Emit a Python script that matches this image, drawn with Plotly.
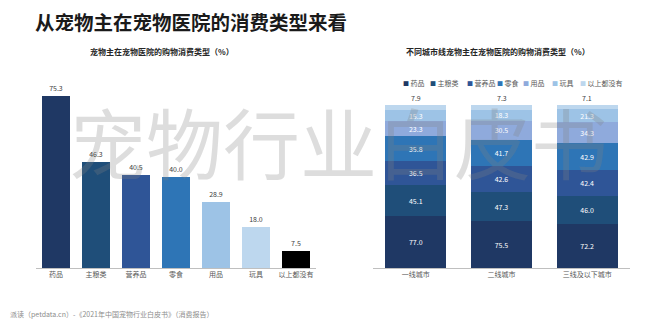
import plotly.graph_objects as go

# Consumption categories (shared by both panels)
categories = ["药品", "主粮类", "营养品", "零食", "用品", "玩具", "以上都没有"]

# Left panel: share of pet owners buying each category at vet hospitals (%)
overall_share = [75.3, 46.3, 40.5, 40.0, 28.9, 18.0, 7.5]

# Right panel: the same breakdown by city tier (%)
cities = ["一线城市", "二线城市", "三线及以下城市"]
tier1 = [77.0, 45.1, 36.5, 35.8, 23.3, 15.3, 7.9]
tier2 = [75.5, 47.3, 42.6, 41.7, 30.5, 18.3, 7.3]
tier3 = [72.2, 46.0, 42.4, 42.9, 34.3, 21.3, 7.1]

bar_colors = ["#1F3864", "#1F4E79", "#2F5597", "#2E75B6", "#9DC3E6", "#BDD7EE", "#000000"]
stack_colors = ["#1F3864", "#1F4E79", "#2F5597", "#2E75B6", "#8FAADC", "#9DC3E6", "#BDD7EE"]

W, H = 650, 333
FONT = "Noto Sans CJK SC"


def fx(px):
    return px / W


def fy(px):
    return 1 - px / H


fig = go.Figure()

# Left panel: simple bars with value labels on top
fig.add_trace(go.Bar(
    x=categories, y=overall_share,
    marker=dict(color=bar_colors, line=dict(width=0)),
    text=[f"{v:.1f}" for v in overall_share],
    textposition="outside",
    textfont=dict(size=7, color="#404040", family=FONT),
    cliponaxis=False,
    xaxis="x", yaxis="y", showlegend=False, hoverinfo="skip",
))

# Right panel: each city's column is stacked to 100% of the column height
tiers = [tier1, tier2, tier3]
totals = [sum(t) for t in tiers]
for i, cat in enumerate(categories):
    raw = [t[i] for t in tiers]
    heights = [v / tot * 100 for v, tot in zip(raw, totals)]
    top = i == len(categories) - 1
    fig.add_trace(go.Bar(
        x=cities, y=heights, name=cat,
        marker=dict(color=stack_colors[i], line=dict(width=0)),
        text=None if top else [f"{v:.1f}" for v in raw],
        textposition="inside", insidetextanchor="middle",
        textfont=dict(size=7, color="white", family=FONT),
        xaxis="x2", yaxis="y2", showlegend=False, hoverinfo="skip",
    ))

annotations = []

# Values of the thin top segment, written above each column
for city, t in zip(cities, tiers):
    annotations.append(dict(
        x=city, y=100, xref="x2", yref="y2", yshift=7,
        text=f"{t[-1]:.1f}", showarrow=False,
        font=dict(size=7, color="#404040", family=FONT),
    ))

# Titles
annotations.append(dict(
    x=fx(33), y=fy(22), xref="paper", yref="paper", xanchor="left", yanchor="middle",
    text="<b>从宠物主在宠物医院的消费类型来看</b>", showarrow=False,
    font=dict(size=19.5, color="#1a1a1a", family=FONT),
))
annotations.append(dict(
    x=fx(162), y=fy(51), xref="paper", yref="paper", xanchor="center", yanchor="middle",
    text="<b>宠物主在宠物医院的购物消费类型（%）</b>", showarrow=False,
    font=dict(size=8, color="#262626", family=FONT),
))
annotations.append(dict(
    x=fx(498), y=fy(51), xref="paper", yref="paper", xanchor="center", yanchor="middle",
    text="<b>不同城市线宠物主在宠物医院的购物消费类型（%）</b>", showarrow=False,
    font=dict(size=8, color="#262626", family=FONT),
))

# Legend row for the stacked panel
legend_x = [401, 428, 465, 495, 521, 550, 578]
for x0, cat, col in zip(legend_x, categories, stack_colors):
    annotations.append(dict(
        x=fx(x0), y=fy(83), xref="paper", yref="paper", xanchor="left", yanchor="middle",
        text=f"<span style='color:{col};font-size:6px'>■</span> {cat}", showarrow=False,
        font=dict(size=7, color="#595959", family=FONT),
    ))

# Source line
annotations.append(dict(
    x=fx(8), y=fy(314), xref="paper", yref="paper", xanchor="left", yanchor="middle",
    text="派读（petdata.cn）-《2021年中国宠物行业白皮书》（消费报告）", showarrow=False,
    font=dict(size=7, color="#8c8c8c", family=FONT),
))

# Watermark across both panels
annotations.append(dict(
    x=fx(338), y=fy(140), xref="paper", yref="paper", xanchor="center", yanchor="middle",
    text="宠物行业白皮书", showarrow=False,
    font=dict(size=77, color="rgba(130,130,130,0.27)", family=FONT),
))

axis_common = dict(
    showline=True, linecolor="#BFBFBF", linewidth=1, ticks="", showgrid=False,
    zeroline=False, tickfont=dict(size=7, color="#595959", family=FONT), fixedrange=True,
)

fig.update_layout(
    width=W, height=H,
    margin=dict(l=0, r=0, t=0, b=0),
    paper_bgcolor="white", plot_bgcolor="white",
    barmode="stack", bargap=0.29,
    showlegend=False,
    uniformtext=dict(minsize=7, mode="show"),
    font=dict(family=FONT),
    xaxis=dict(domain=[fx(36), fx(316)], anchor="y", **axis_common),
    yaxis=dict(domain=[fy(268), fy(85)], range=[0, 80], visible=False, fixedrange=True),
    xaxis2=dict(domain=[fx(373), fx(630)], anchor="y2", **axis_common),
    yaxis2=dict(domain=[fy(268), fy(105)], range=[0, 100], visible=False, fixedrange=True),
    annotations=annotations,
)

fig.write_html("out.html", config={"displayModeBar": False})
